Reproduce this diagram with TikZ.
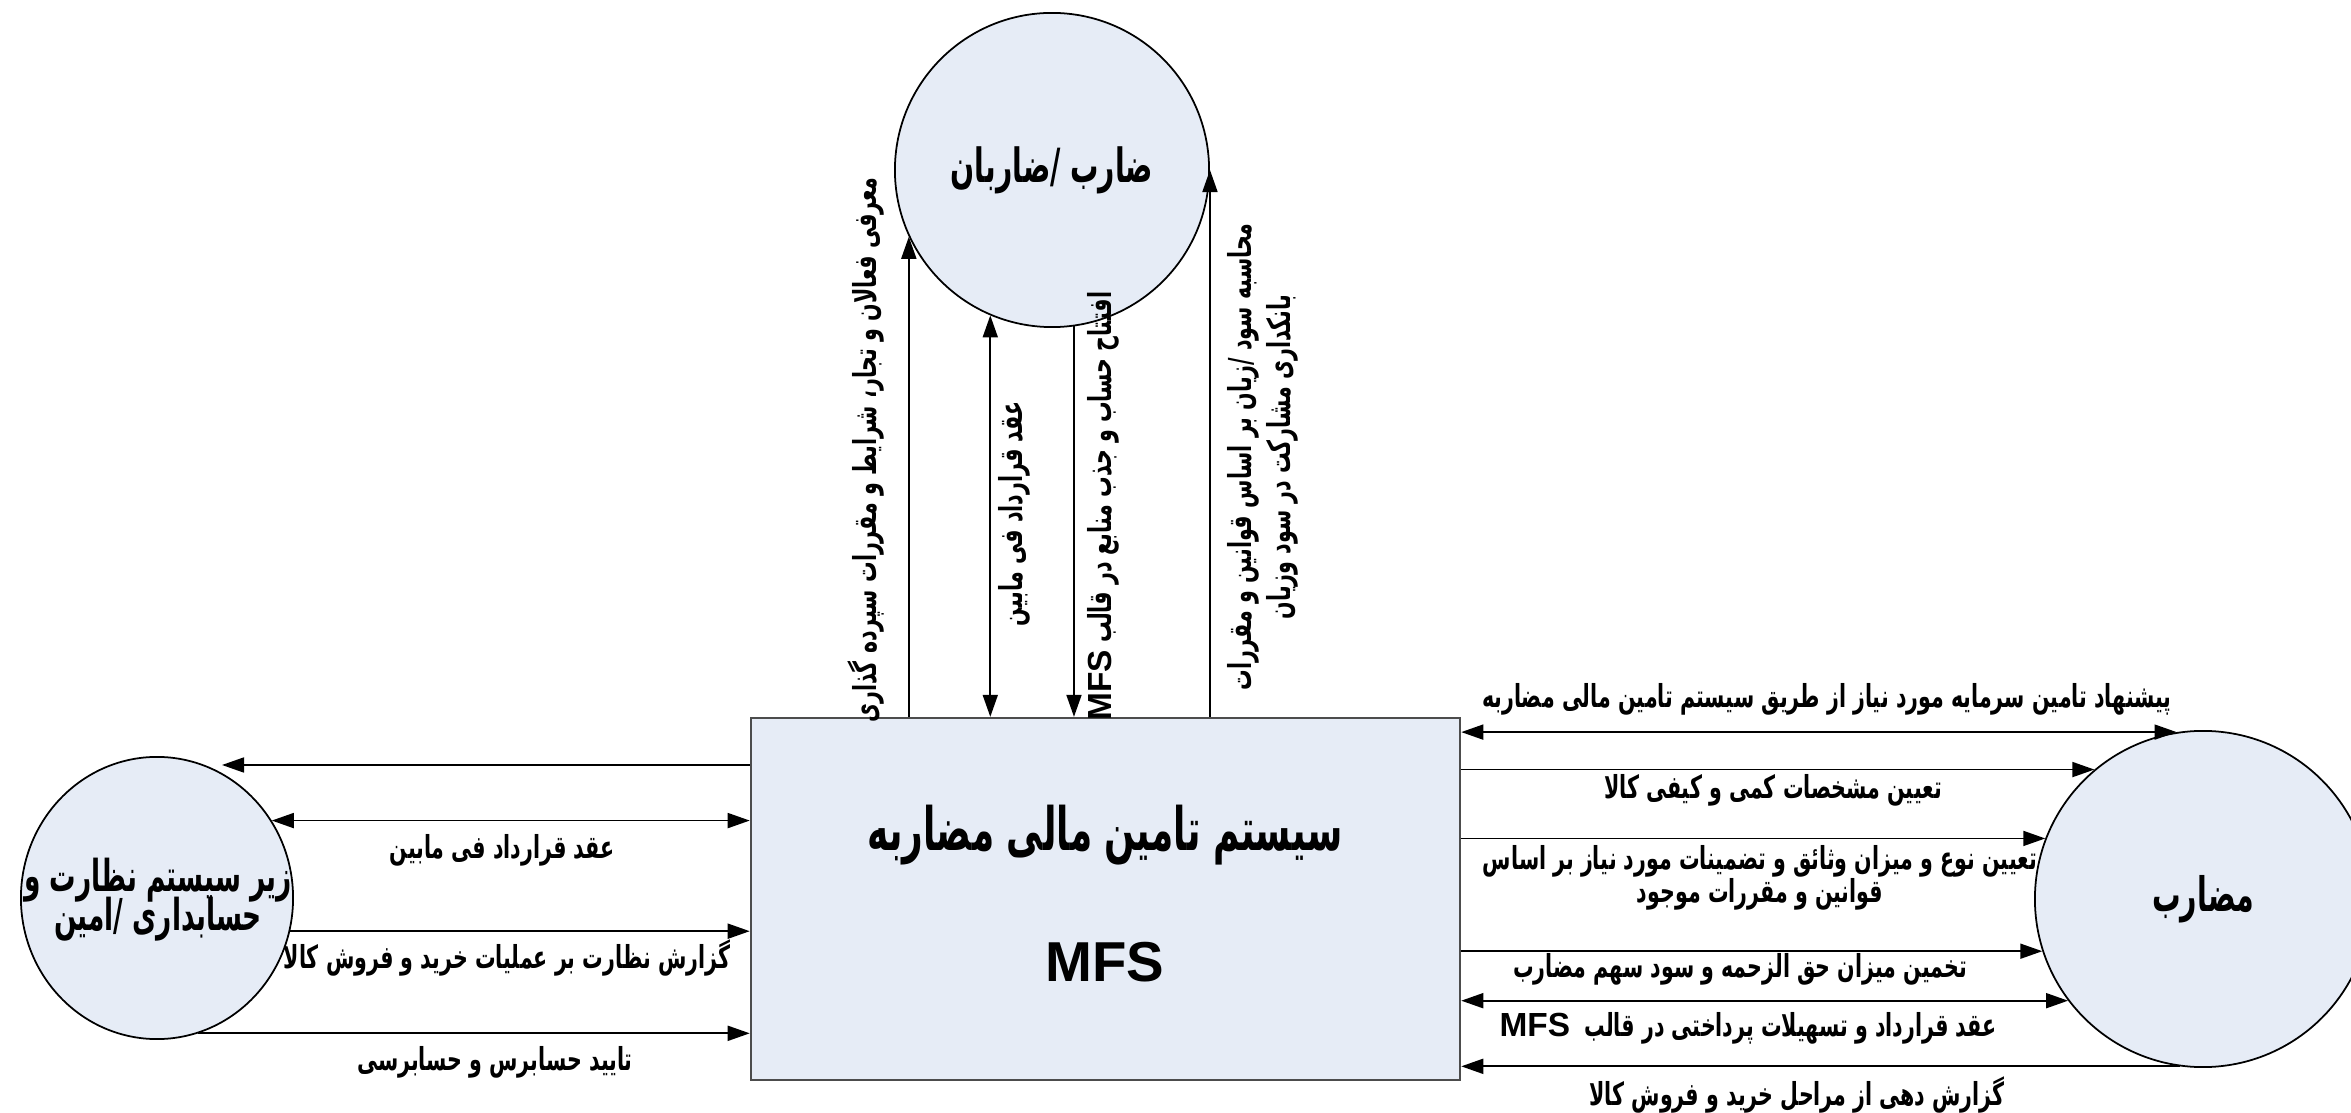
\documentclass[tikz,border=0pt]{standalone}
\usepackage{fontspec}
\setmainfont{Liberation Sans}
\newfontfamily\arabicfont[Script=Arabic, FakeStretch=0.65]{DejaVu Sans}
\newfontfamily\arabictitle[Script=Arabic, FakeStretch=0.6]{DejaVu Sans}
\newfontfamily\latinfont{Liberation Sans}
\TeXXeTstate=1
\usetikzlibrary{arrows.meta,shapes.geometric}
\definecolor{entityfill}{RGB}{230,236,246}
\newcommand{\rl}[1]{\beginR #1\endR}
\newcommand{\mfs}{\beginL{\latinfont\bfseries\fontsize{9.5}{9.5}\selectfont MFS}\endL}

\tikzset{
  entity/.style={draw=black, line width=0.5pt, fill=entityfill, inner sep=0pt},
  flow/.style={line width=0.5pt, -{Triangle[length=2.2mm,width=1.5mm]}},
  dflow/.style={line width=0.5pt, {Triangle[length=2.2mm,width=1.5mm]}-{Triangle[length=2.2mm,width=1.5mm]}},
  lbl/.style={font=\arabicfont\bfseries\fontsize{9}{9.5}\selectfont, align=center, inner sep=0pt},
  bigtext/.style={font=\arabictitle\bfseries\fontsize{#1}{#1}\selectfont, align=center, inner sep=0pt}
}

\begin{document}
\begin{tikzpicture}[x=0.01cm,y=-0.01cm]
\useasboundingbox (0,0) rectangle (2351,1113);

% سیستم اصلی
\node[draw=black!70, line width=0.6pt, fill=entityfill, minimum width=7.09cm, minimum height=3.62cm, inner sep=0pt] (mfs) at (1105.5,899) {};
\node[bigtext=17] (mfstitle) at (1105,835) {\rl{سیستم تامین مالی مضاربه}};
\node[font=\latinfont\bfseries\fontsize{16}{16}\selectfont, inner sep=0pt] (mfsname) at (1105,962) {MFS};

% ضارب
\node[entity, circle, minimum size=3.14cm, bigtext=13.4] (zareb) at (1052,170) {\rl{ضارب /ضاربان}};

% امین
\node[entity, ellipse, minimum width=2.72cm, minimum height=2.82cm] (amin) at (157,898) {};
\node[bigtext=12.5] (amintext) at (158,900) {\rl{زیر سیستم نظارت و}\\[-2.5pt]\rl{حسابداری /امین}};

% مضارب
\node[entity, circle, minimum size=3.36cm, bigtext=13.5] (mozareb) at (2203,899) {\rl{مضارب}};

% بالا
\draw[flow] (mfs.north -| zareb.205) -- (zareb.205);
\draw[dflow] (mfs.north -| zareb.247) -- (zareb.247);
\draw[flow] (zareb.278) -- (mfs.north -| zareb.278);
\draw[flow] (mfs.north -| zareb.east) -- (zareb.east);
\node[lbl, rotate=90] (ta) at (866,450) {\rl{معرفی فعالان و تجار، شرایط و مقررات سپرده گذاری}};
\node[lbl, rotate=90] (tb) at (1014,514) {\rl{عقد قرارداد فی مابین}};
\node[lbl, rotate=90] (tc) at (1103,506) {\rl{افتتاح حساب و جذب منابع در قالب \mfs}};
\node[lbl, rotate=90] (td) at (1263,457) {\rl{محاسبه سود /زیان بر اساس قوانین و مقررات}\\[1.5pt]\rl{بانکداری مشارکت در سود وزیان}};

% چپ
\coordinate (leftend) at (222,765);
\draw[flow] (mfs.west |- leftend) -- (leftend);
\draw[dflow] (amin.34) -- (mfs.west |- amin.34);
\draw[flow] (amin.346) -- (mfs.west |- amin.346);
\draw[flow] (amin.287) -- (mfs.west |- amin.287);
\node[lbl] (la) at (502,850) {\rl{عقد قرارداد فی مابین}};
\node[lbl] (lb) at (507,958) {\rl{گزارش نظارت بر عملیات خرید و فروش کالا}};
\node[lbl] (lc) at (495,1062) {\rl{تایید حسابرس و حسابرسی}};

% راست
\draw[dflow] (mfs.east |- mozareb.99) -- (mozareb.99);
\draw[flow] (mfs.east |- mozareb.130) -- (mozareb.130);
\draw[flow] (mfs.east |- mozareb.159) -- (mozareb.159);
\draw[flow] (mfs.east |- mozareb.198) -- (mozareb.198);
\draw[dflow] (mfs.east |- mozareb.217) -- (mozareb.217);
\draw[flow] (mozareb.262) -- (mfs.east |- mozareb.262);
\node[lbl] (ra) at (1827,699) {\rl{پیشنهاد تامین سرمایه مورد نیاز از طریق سیستم تامین مالی مضاربه}};
\node[lbl] (rb) at (1773,790) {\rl{تعیین مشخصات کمی و کیفی کالا}};
\node[lbl] (rc) at (1760,878) {\rl{تعیین نوع و میزان وثائق و تضمینات مورد نیاز بر اساس}\\\rl{قوانین و مقررات موجود}};
\node[lbl] (rd) at (1740,969) {\rl{تخمین میزان حق الزحمه و سود سهم مضارب}};
\node[lbl] (re) at (1748,1028) {\rl{عقد قرارداد و تسهیلات پرداختی در قالب\ \ \mfs}};
\node[lbl] (rf) at (1797,1095) {\rl{گزارش دهی از مراحل خرید و فروش کالا}};
\end{tikzpicture}
\end{document}
